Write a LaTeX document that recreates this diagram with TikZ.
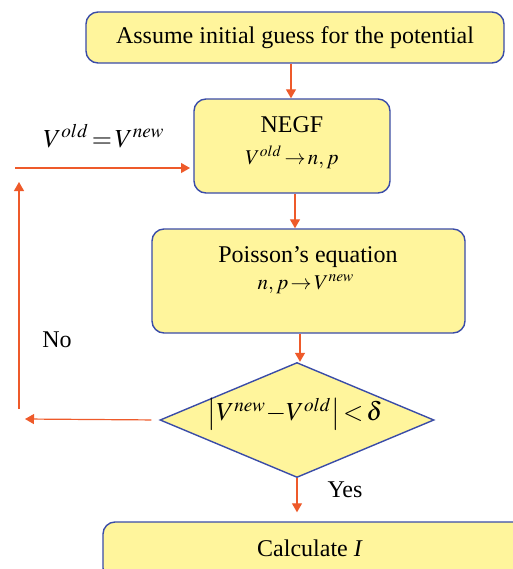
\documentclass[tikz,border=0pt]{standalone}
\usepackage{mathptmx}
\usepackage{fontspec}
\setmainfont{Liberation Serif}
\usetikzlibrary{arrows.meta,shapes.geometric,positioning}

\definecolor{boxfill}{HTML}{FFF59C}
\definecolor{boxline}{HTML}{3A4CA8}
\definecolor{flowline}{HTML}{EE5A2A}

\begin{document}
\begin{tikzpicture}[x=0.5pt, y=-0.5pt, font=\fontsize{12}{14}\selectfont]
		\tikzstyle{block}=[rectangle, rounded corners=6pt, draw=boxline, fill=boxfill, line width=0.7pt, inner sep=0pt]
		\tikzstyle{test}=[diamond, draw=boxline, fill=boxfill, line width=0.7pt, inner sep=0pt]
		\tikzstyle{connect}=[-{Triangle[width=5pt,length=4.5pt]}, draw=flowline, line width=0.6pt]
		\useasboundingbox (0,0) rectangle (513,569);
		\node[block, minimum width=209pt, minimum height=25.5pt] (guess) at (295,37.5) {};
		\node[block, minimum width=98pt, minimum height=47pt] (negf) at (292,146) {};
		\node[block, minimum width=156.5pt, minimum height=52pt] (poisson) at (308.5,281) {};
		\node[test, minimum width=137pt, minimum height=57.5pt] (check) at (297,420) {};
		\node[block, minimum width=213.5pt, minimum height=29pt] (calc) at (316.5,551) {};
		% texts
		\node (guesstext) at (guess.center) {Assume initial guess for the potential};
		\node (negftext) at (292,125) {NEGF};
		\node[font=\fontsize{10.5}{12}\selectfont] (negfmath) at (292,157) {$V^{old}\!\rightarrow\! n,p$};
		\node (poissontext) at (308,257) {Poisson's equation};
		\node[font=\fontsize{10.5}{12}\selectfont] (poissonmath) at (306,284) {$n,p\!\rightarrow\! V^{new}$};
		\node[font=\fontsize{13}{15}\selectfont, inner sep=0pt] (checktext) at (295,414) {$\left|V^{new}\mathord{-}V^{old}\right|\mathord{<}\,\delta$};
		\node (calctext) at (310,548) {Calculate \textit{I}};
		\node[font=\fontsize{13}{15}\selectfont] (update) at (104,136) {$V^{old}\!=\!V^{new}$};
		\node (no) at (57,340) {No};
		\node (yes) at (345,490) {Yes};
		% loop back
		\coordinate (leftend) at (25,419);
		\coordinate (upstart) at (19,409);
		\coordinate (upend) at (19,182);
		\coordinate (backstart) at (15,168);
		\coordinate (backend) at (190,168);
		\path
		(guess.south -| 291,0) edge [connect] (negf.north -| 291,0)
		(negf.south -| 295,0) edge [connect] (poisson.north -| 295,0)
		(poisson.south -| 300,0) edge [connect] (check.north -| 300,0)
		(check.south) edge [connect, shorten >=4.5pt] (check.south |- calc.north)
		(check.west) edge [connect, shorten <=4pt] (leftend)
		(upstart) edge [connect] (upend)
		(backstart) edge [connect] (backend)
		;
	\end{tikzpicture}
\end{document}
